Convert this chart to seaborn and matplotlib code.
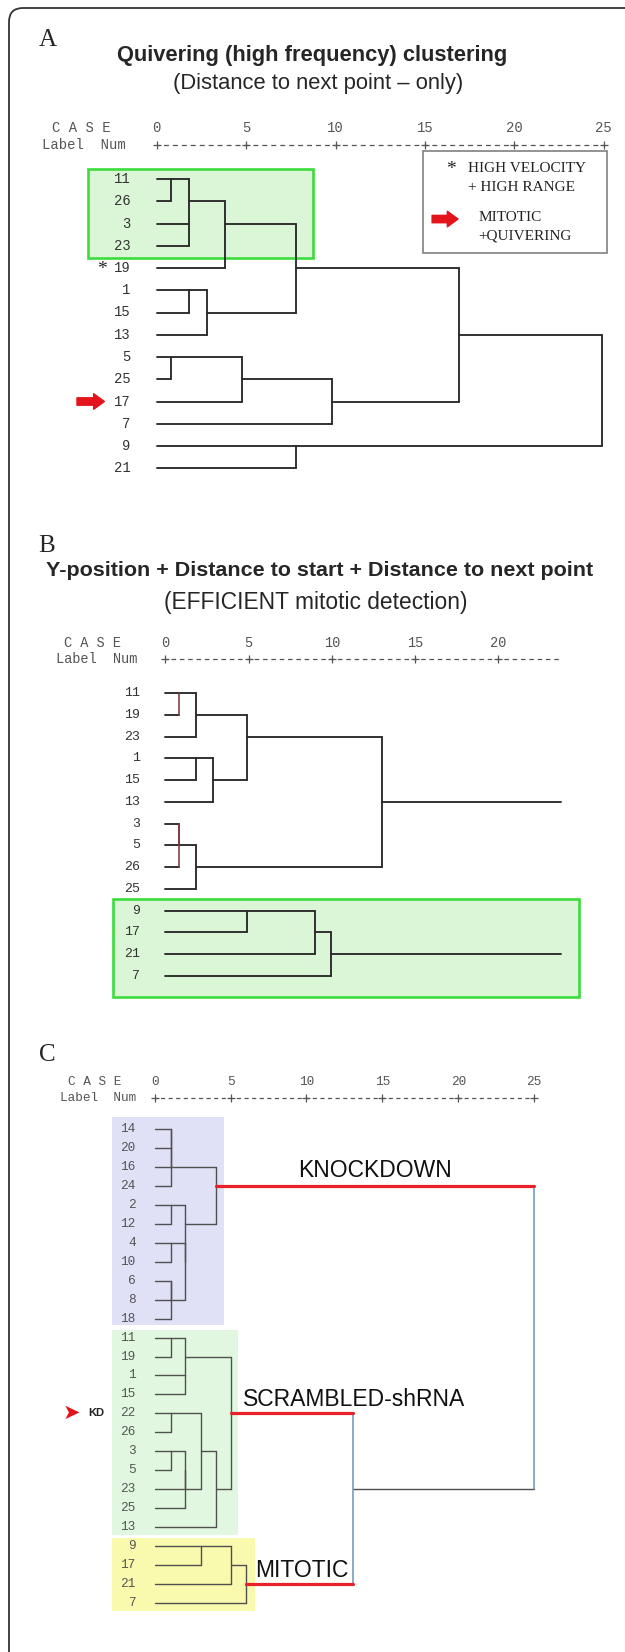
import matplotlib
matplotlib.use('Agg')
import pandas as pd
import seaborn as sns
import matplotlib.pyplot as plt
from matplotlib.patches import Rectangle, FancyBboxPatch
from matplotlib.transforms import IdentityTransform

# ---- A: quivering (distance to next point only), rescaled distance 0-25
# leaves in display order; merges refer to leaf index or earlier merge (n + k)
leaves_A = ['11', '26', '3', '23', '19', '1', '15', '13', '5', '25', '17', '7', '9', '21']
left_A = [0, 2, 14, 16, 5, 18, 17, 8, 21, 22, 20, 12, 24]
right_A = [1, 3, 15, 4, 6, 7, 19, 9, 10, 11, 23, 13, 25]
dist_A = [0.8, 1.8, 1.8, 3.8, 1.8, 2.8, 7.8, 0.8, 4.8, 9.8, 16.9, 7.8, 24.9]

# ---- B: Y-position + distance to start + distance to next point
leaves_B = ['11', '19', '23', '1', '15', '13', '3', '5', '26', '25', '9', '17', '21', '7']
left_B = [0, 14, 3, 16, 15, 6, 19, 20, 18, 10, 23, 24]
right_B = [1, 2, 4, 5, 17, 7, 8, 9, 21, 11, 12, 13]
dist_B = [0.84, 1.85, 1.85, 2.87, 4.91, 0.84, 0.84, 1.85, 13.04, 4.91, 8.97, 9.98]
cut_B = 23.8
red_steps_B = [0, 5, 6]     # thin reddish joins in the scan

# ---- C: knockdown / scrambled / mitotic
leaves_C = ['14', '20', '16', '24', '2', '12', '4', '10', '6', '8', '18',
            '11', '19', '1', '15', '22', '26', '3', '5', '23', '25', '13',
            '9', '17', '21', '7']
left_C = [0, 26, 27, 4, 6, 8, 31, 30, 29, 28, 11, 13, 36, 15, 17, 40, 41, 39, 43, 38,
          22, 46, 47, 45, 35]
right_C = [1, 2, 3, 5, 7, 9, 10, 32, 33, 34, 12, 14, 37, 16, 18, 19, 20, 42, 21, 44,
           23, 24, 25, 48, 49]
dist_C = [1.05, 1.05, 1.05, 1.05, 1.05, 1.05, 1.05, 2.03, 2.03, 4.05, 1.05, 2.03, 2.03,
          1.05, 1.05, 2.03, 2.03, 3.03, 4.05, 5.05, 3.03, 5.05, 6.05, 13.07, 25.0]
groups_C = ['KNOCKDOWN', 'SCRAMBLED-shRNA', 'MITOTIC']
group_step_C = [9, 19, 22]      # merge step that closes each group

ticks_full = [0, 5, 10, 15, 20, 25]
ticks_B = [0, 5, 10, 15, 20]

sns.set_style('white')
plt.rcParams['font.family'] = ['Liberation Sans', 'DejaVu Sans']
MONO = 'Liberation Mono'
SERIF = 'Liberation Serif'
W, H = 625, 1652

fig = plt.figure(figsize=(W / 100, H / 100), dpi=100)
rend = fig.canvas.get_renderer()


def tree_frame(n, left, right, dist, cut=None):
    row = list(range(n))
    hgt = [0.0] * n
    recs = []
    for k, (a, b, h) in enumerate(zip(left, right, dist)):
        node = n + k
        for c in (a, b):
            recs += [('h%d' % c, hgt[c], row[c], 'h', c), ('h%d' % c, h, row[c], 'h', c)]
        recs += [('v%d' % node, h, row[a], 'v', node), ('v%d' % node, h, row[b], 'v', node)]
        row.append((min(row[a], row[b]) + max(row[a], row[b])) // 2)
        hgt.append(h)
    if cut is not None:
        used = set(left) | set(right)
        for c in range(n, len(row)):
            if c not in used:
                recs += [('t%d' % c, hgt[c], row[c], 'h', c), ('t%d' % c, cut, row[c], 'h', c)]
    return pd.DataFrame(recs, columns=['seg', 'x', 'y', 'kind', 'node'])


def draw(ax, df, color, lw):
    sns.lineplot(data=df, x='x', y='y', units='seg', estimator=None, sort=False,
                 color=color, lw=lw, ax=ax, legend=False)


def panel():
    ax = fig.add_axes([0, 0, 1, 1])
    ax.axis('off')
    return ax


def place(ax, x0, ppu, row0, ppr):
    ax.set_xlim(-x0 / ppu, (W - x0) / ppu)
    ax.set_ylim((H - row0) / ppr, -row0 / ppr)


def ruler(ax, ppu, ticks, end, y_case, y_lab, x_case, x_lab, size):
    lw = 0.9
    per = ppu / 2 * 0.72 / lw
    dash = per * 0.55
    ax.plot([0, end], [y_lab, y_lab], color='#555555', lw=lw,
            ls=(dash / 2, (dash, per - dash)))
    ax.plot(ticks, [y_lab] * len(ticks), ls='none', marker='+', ms=6, mew=0.9, color='#555555')
    for t in ticks:
        ax.text(t, y_case, str(t), ha='center', va='center', family=MONO, size=size, color='#555555')
    ax.text(x_case, y_case, 'C A S E', ha='left', va='center', family=MONO, size=size, color='#555555')
    ax.text(x_lab, y_lab, 'Label  Num', ha='left', va='center', family=MONO, size=size, color='#555555')


def leaf_labels(ax, leaves, x, size, color):
    for i, s in enumerate(leaves):
        ax.text(x, i, s, ha='right', va='center', family=MONO, size=size, color=color)


def fit(t, width):
    w = t.get_window_extent(renderer=rend).width
    t.set_fontsize(t.get_fontsize() * width / w)


def ftext(x, y, s, width=None, **kw):
    t = fig.text(x / W, 1 - y / H, s, ha='center', va='center', **kw)
    if width:
        fit(t, width)
    return t


# outer frame (open at right and bottom)
fig.add_artist(FancyBboxPatch((9, -60), 700, H - 8 + 60, boxstyle='round,pad=0,rounding_size=14',
                              transform=IdentityTransform(), fill=False, ec='#333333', lw=1.3))

# ---------------- panel A ----------------
ftext(48, 40, 'A', family=SERIF, size=18)
ftext(312, 55, 'Quivering (high frequency) clustering', width=392, weight='bold')
ftext(318, 84, '(Distance to next point \u2013 only)', width=292)

axA = panel()
axA.add_patch(Rectangle((-3.85, -0.45), 12.6, 4.0, fc='#dbf6d6', ec='#3ddc3d', lw=1.9, zorder=0))
dfA = tree_frame(len(leaves_A), left_A, right_A, dist_A)
draw(axA, dfA, '#2a2a2a', 1.35)
leaf_labels(axA, leaves_A, -1.45, 10, '#333333')
ruler(axA, 17.89, ticks_full, 25, -2.29, -1.53, -5.85, -6.4, 10)
axA.text(-3.07, 4.05, '*', ha='center', va='center', family=SERIF, size=14, color='#222222')
axA.annotate('', xy=(-2.92, 10), xytext=(-4.45, 10),
             arrowprops=dict(arrowstyle='simple,head_length=0.55,head_width=0.8,tail_width=0.38',
                             color='#e3141b', shrinkA=0, shrinkB=0, mutation_scale=14))
axA.add_patch(Rectangle((14.89, -1.26), 10.26, 4.59, fc='white', ec='#808080', lw=1.2, zorder=1))
axA.text(16.47, -0.42, '*', ha='center', va='center', family=SERIF, size=14, color='#222222')
axA.text(17.4, -0.49, 'HIGH VELOCITY', ha='left', va='center', family=SERIF, size=11, color='#222222')
axA.text(17.4, 0.40, '+ HIGH RANGE', ha='left', va='center', family=SERIF, size=11, color='#222222')
axA.annotate('', xy=(16.85, 1.8), xytext=(15.4, 1.8),
             arrowprops=dict(arrowstyle='simple,head_length=0.55,head_width=0.8,tail_width=0.38',
                             color='#e3141b', shrinkA=0, shrinkB=0, mutation_scale=14))
axA.text(18.0, 1.75, 'MITOTIC', ha='left', va='center', family=SERIF, size=11, color='#222222')
axA.text(18.0, 2.55, '+QUIVERING', ha='left', va='center', family=SERIF, size=11, color='#222222')
place(axA, 156.6, 17.89, 179, 22.25)

# ---------------- panel B ----------------
ftext(47, 546, 'B', family=SERIF, size=18)
ftext(320, 571, 'Y-position + Distance to start + Distance to next point', width=545,
      weight='bold', family=['Liberation Sans Narrow', 'Liberation Sans'])
ftext(316, 603, '(EFFICIENT mitotic detection)', width=305)

axB = panel()
axB.add_patch(Rectangle((-3.16, 9.46), 28.0, 4.5, fc='#dbf6d6', ec='#3ddc3d', lw=1.9, zorder=0))
nB = len(leaves_B)
dfB = tree_frame(nB, left_B, right_B, dist_B, cut=cut_B)
redB = (dfB['kind'] == 'v') & dfB['node'].isin([nB + k for k in red_steps_B])
draw(axB, dfB[~redB], '#2a2a2a', 1.35)
draw(axB, dfB[redB], '#7a3434', 1.1)
leaf_labels(axB, leaves_B, -1.51, 9.5, '#333333')
ruler(axB, 16.64, ticks_B, cut_B, -2.28, -1.55, -6.1, -6.59, 9.8)
place(axB, 165.4, 16.64, 693, 21.77)

# ---------------- panel C ----------------
ftext(47, 1055, 'C', family=SERIF, size=18)

axC = panel()
box_right = [4.57, 5.51, 6.62]
box_rows = [(-0.61, 10.35), (10.6, 21.4), (21.58, 25.44)]
box_colors = ['#e0e0f7', '#e2f7e0', '#fafaae']
for r, (y0, y1), c in zip(box_right, box_rows, box_colors):
    axC.add_patch(Rectangle((-2.78, y0), r + 2.78, y1 - y0, fc=c, ec='none', zorder=0))

nC = len(leaves_C)
dfC = tree_frame(nC, left_C, right_C, dist_C)
red_nodes = [nC + k for k in group_step_C]
blue_nodes = [nC + len(dist_C) - 2, nC + len(dist_C) - 1]
is_red = (dfC['kind'] == 'h') & dfC['node'].isin(red_nodes)
is_blue = (dfC['kind'] == 'v') & dfC['node'].isin(blue_nodes)
draw(axC, dfC[~is_red & ~is_blue], '#505050', 1.0)
draw(axC, dfC[is_blue], '#6a95b8', 1.1)
draw(axC, dfC[is_red], '#e8202a', 2.3)
leaf_labels(axC, leaves_C, -1.26, 9.2, '#555555')
ruler(axC, 15.18, ticks_full, 25, -2.49, -1.62, -5.72, -6.25, 9.2)

axC.text(14.5, 2.2, groups_C[0], ha='center', va='center', size=16.5, color='#111111')
axC.text(5.83, 14.28, groups_C[1], ha='left', va='center', size=16.5, color='#111111')
axC.text(6.62, 23.3, groups_C[2], ha='left', va='center', size=16.5, color='#111111')
axC.text(-5.5, 14.97, '\u27a4', ha='center', va='center', family='DejaVu Sans', size=15, color='#e3141b')
axC.text(-4.39, 14.97, 'KD', ha='left', va='center', size=8, weight='bold', color='#222222')
place(axC, 154.6, 15.18, 1129, 18.96)

fig.savefig('out.png', dpi=100)
